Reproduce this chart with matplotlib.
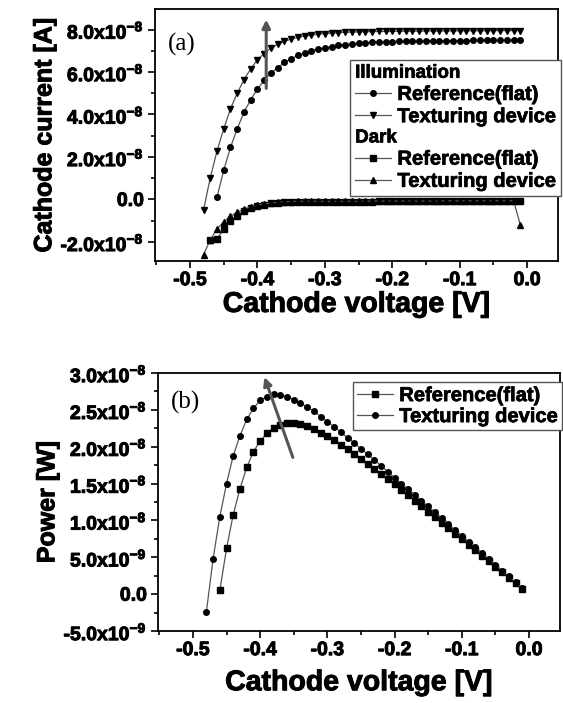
import matplotlib
matplotlib.use("Agg")
import matplotlib.pyplot as plt
import matplotlib.patheffects as pe
from matplotlib.lines import Line2D
from matplotlib.ticker import MultipleLocator, FuncFormatter

plt.rcParams['font.family'] = ['Liberation Sans', 'DejaVu Sans']
plt.rcParams['font.weight'] = 'bold'
plt.rcParams['mathtext.fontset'] = 'custom'
plt.rcParams['mathtext.rm'] = 'Liberation Sans:bold'
plt.rcParams['mathtext.bf'] = 'Liberation Sans:bold'

# --- data (voltage in V, current in 1e-8 A, power in 1e-8 W) ---
volt = [-0.48, -0.47, -0.46, -0.45, -0.44, -0.43, -0.42, -0.41, -0.40, -0.39,
        -0.38, -0.37, -0.36, -0.35, -0.34, -0.33, -0.32, -0.31, -0.30, -0.29,
        -0.28, -0.27, -0.26, -0.25, -0.24, -0.23, -0.22, -0.21, -0.20, -0.19,
        -0.18, -0.17, -0.16, -0.15, -0.14, -0.13, -0.12, -0.11, -0.10, -0.09,
        -0.08, -0.07, -0.06, -0.05, -0.04, -0.03, -0.02, -0.01]
volt_flat = volt[2:]        # -0.46 .. -0.01
volt_dark_flat = volt[1:]   # -0.47 .. -0.01

# illumination, reference (flat)
ill_flat = [0.11, 1.38, 2.45, 3.33, 4.10, 4.70, 5.20, 5.60, 5.95, 6.20,
            6.45, 6.63, 6.78, 6.90, 7.00, 7.08, 7.15, 7.20, 7.25, 7.29,
            7.32, 7.35, 7.37, 7.39, 7.41, 7.42, 7.43, 7.44, 7.45, 7.46,
            7.46, 7.47, 7.47, 7.47, 7.48, 7.48, 7.48, 7.48, 7.49, 7.49,
            7.49, 7.49, 7.49, 7.50, 7.50, 7.50]
# illumination, texturing device
ill_tex = [-0.50, 1.02, 2.28, 3.33, 4.27, 5.00, 5.64, 6.15, 6.58, 6.87,
           7.13, 7.30, 7.44, 7.55, 7.63, 7.69, 7.74, 7.78, 7.81, 7.83,
           7.85, 7.87, 7.88, 7.89, 7.90, 7.90, 7.91, 7.91, 7.91, 7.92,
           7.92, 7.92, 7.92, 7.93, 7.93, 7.93, 7.93, 7.93, 7.94, 7.94,
           7.94, 7.94, 7.94, 7.95, 7.95, 7.95, 7.95, 7.95]
# dark, reference (flat)
dark_flat = [-1.90, -1.85, -1.40, -1.00, -0.78, -0.55, -0.42, -0.32, -0.25, -0.19,
             -0.15, -0.13, -0.11, -0.10, -0.10, -0.10, -0.10, -0.10, -0.10, -0.10,
             -0.10, -0.10, -0.10, -0.10, -0.10, -0.09, -0.09, -0.09, -0.09, -0.09,
             -0.09, -0.09, -0.09, -0.09, -0.09, -0.09, -0.08, -0.08, -0.08, -0.08,
             -0.08, -0.08, -0.08, -0.08, -0.08, -0.08, -0.08]
# dark, texturing device
dark_tex = [-2.60, -1.90, -1.40, -1.05, -0.80, -0.60, -0.45, -0.35, -0.27, -0.21,
            -0.17, -0.14, -0.12, -0.10, -0.09, -0.09, -0.09, -0.09, -0.09, -0.09,
            -0.09, -0.09, -0.09, -0.09, -0.09, -0.08, -0.08, -0.08, -0.08, -0.08,
            -0.08, -0.08, -0.08, -0.08, -0.08, -0.08, -0.07, -0.07, -0.07, -0.07,
            -0.07, -0.07, -0.07, -0.07, -0.07, -0.07, -0.07, -1.20]

# power
pow_flat = [0.05, 0.62, 1.08, 1.43, 1.72, 1.93, 2.08, 2.18, 2.26, 2.29,
            2.32, 2.32, 2.31, 2.28, 2.24, 2.19, 2.15, 2.09, 2.03, 1.97,
            1.90, 1.84, 1.77, 1.70, 1.63, 1.56, 1.49, 1.41, 1.34, 1.27,
            1.19, 1.12, 1.05, 0.97, 0.90, 0.82, 0.75, 0.67, 0.60, 0.52,
            0.45, 0.37, 0.30, 0.225, 0.15, 0.075]
pow_tex = [-0.24, 0.48, 1.05, 1.50, 1.88, 2.15, 2.37, 2.52, 2.63, 2.68,
           2.71, 2.70, 2.68, 2.64, 2.59, 2.54, 2.48, 2.41, 2.34, 2.27,
           2.20, 2.12, 2.05, 1.97, 1.90, 1.82, 1.74, 1.66, 1.58, 1.50,
           1.43, 1.35, 1.27, 1.19, 1.11, 1.03, 0.95, 0.87, 0.79, 0.71,
           0.64, 0.56, 0.48, 0.40, 0.32, 0.24, 0.16, 0.08]

scale = 1e-8
line_kw = dict(color='#555555', lw=0.9, mfc='black', mec='black')
heavy = [pe.withStroke(linewidth=0.7, foreground='black')]


def sci_fmt(v, pos):
    if abs(v) < 1e-20:
        return "0.0"
    exp = int(f"{v:e}".split("e")[1])
    mant = v / 10 ** exp
    return f"{mant:.1f}x10$^{{{exp}}}$"


def style_axes(ax, ymaj, ymin):
    ax.set_xlim(-0.552, 0.046)
    ax.xaxis.set_major_locator(MultipleLocator(0.1))
    ax.xaxis.set_minor_locator(MultipleLocator(0.05))
    ax.yaxis.set_major_locator(MultipleLocator(ymaj))
    ax.yaxis.set_minor_locator(MultipleLocator(ymin))
    ax.yaxis.set_major_formatter(FuncFormatter(sci_fmt))
    ax.xaxis.set_major_formatter(FuncFormatter(lambda v, p: f"{v:.1f}"))
    ax.tick_params(which='both', direction='out', top=False, right=False,
                   labelsize=14, width=1.2)
    ax.tick_params(which='major', length=5, pad=3)
    ax.tick_params(which='minor', length=3)
    for s in ax.spines.values():
        s.set_linewidth(1.3)
    for t in ax.get_xticklabels() + ax.get_yticklabels():
        t.set_fontweight('bold')
        t.set_path_effects(heavy)


fig = plt.figure(figsize=(5.63, 7.03), dpi=100)

# ---- (a) current ----
ax1 = fig.add_axes([0.2753, 0.6287, 0.716, 0.358])
ax1.plot(volt_flat, [v * scale for v in ill_flat], marker='o', ms=4, **line_kw)
ax1.plot(volt, [v * scale for v in ill_tex], marker='v', ms=4.8, **line_kw)
ax1.plot(volt_dark_flat, [v * scale for v in dark_flat], marker='s', ms=4, **line_kw)
ax1.plot(volt, [v * scale for v in dark_tex], marker='^', ms=4.8, **line_kw)
ax1.set_ylim(-2.9e-8, 8.95e-8)
style_axes(ax1, 2e-8, 1e-8)
ax1.set_ylabel("Cathode current [A]", fontsize=18, fontweight='bold', labelpad=3,
               path_effects=heavy)
ax1.set_xlabel("Cathode voltage [V]", fontsize=20.5, fontweight='bold', labelpad=2,
               path_effects=heavy)
ax1.text(0.032, 0.86, "(a)", transform=ax1.transAxes, fontsize=18,
         family='Liberation Serif', fontweight='normal', va='center')
ax1.annotate('', xy=(-0.387, 8.6e-8), xytext=(-0.387, 5.1e-8),
             arrowprops=dict(arrowstyle='-|>', color='#555555', lw=2.2,
                             mutation_scale=12))

hdr = Line2D([], [], linestyle='none')
h1 = [hdr,
      Line2D([], [], marker='o', ms=4, **line_kw),
      Line2D([], [], marker='v', ms=4.8, **line_kw),
      hdr,
      Line2D([], [], marker='s', ms=4, **line_kw),
      Line2D([], [], marker='^', ms=4.8, **line_kw)]
l1 = ["Illumination", "Reference(flat)", "Texturing device",
      "Dark", "Reference(flat)", "Texturing device"]
leg1 = ax1.legend(h1, l1, loc='upper left', bbox_to_anchor=(0.484, 0.80),
                  prop=dict(size=14.5, weight='bold'), frameon=True, fancybox=False,
                  edgecolor='#555555', framealpha=1, borderpad=0.25,
                  labelspacing=0.16, handlelength=1.8, handletextpad=0.3,
                  borderaxespad=0)
leg1.get_frame().set_linewidth(1.0)
rows = [r for col in leg1._legend_handle_box.get_children() for r in col.get_children()]
for i in (0, 3):
    rows[i].get_children().pop(0)
    leg1.get_texts()[i].set_fontsize(13.5)
for t in leg1.get_texts():
    t.set_path_effects([pe.withStroke(linewidth=0.5, foreground='black')])

# ---- (b) power ----
ax2 = fig.add_axes([0.2806, 0.1024, 0.714, 0.367])
ax2.plot(volt_flat, [v * scale for v in pow_flat], marker='s', ms=4,
         label="Reference(flat)", **line_kw)
ax2.plot(volt, [v * scale for v in pow_tex], marker='o', ms=4,
         label="Texturing device", **line_kw)
ax2.set_ylim(-5e-9, 3e-8)
style_axes(ax2, 5e-9, 2.5e-9)
ax2.set_ylabel("Power [W]", fontsize=18, fontweight='bold', labelpad=3,
               path_effects=heavy)
ax2.set_xlabel("Cathode voltage [V]", fontsize=20.5, fontweight='bold', labelpad=8,
               path_effects=heavy)
ax2.text(0.032, 0.884, "(b)", transform=ax2.transAxes, fontsize=18,
         family='Liberation Serif', fontweight='normal', va='center')
ax2.annotate('', xy=(-0.395, 2.98e-8), xytext=(-0.35, 1.82e-8),
             arrowprops=dict(arrowstyle='-|>', color='#555555', lw=2.2,
                             mutation_scale=12))
leg2 = ax2.legend(loc='upper left', bbox_to_anchor=(0.485, 0.965),
                  prop=dict(size=14.5, weight='bold'), frameon=True, fancybox=False,
                  edgecolor='#555555', framealpha=1, borderpad=0.2,
                  labelspacing=0.1, handlelength=1.8, handletextpad=0.3,
                  borderaxespad=0)
leg2.get_frame().set_linewidth(1.0)
for t in leg2.get_texts():
    t.set_path_effects([pe.withStroke(linewidth=0.5, foreground='black')])

fig.savefig("out.png", dpi=100)
